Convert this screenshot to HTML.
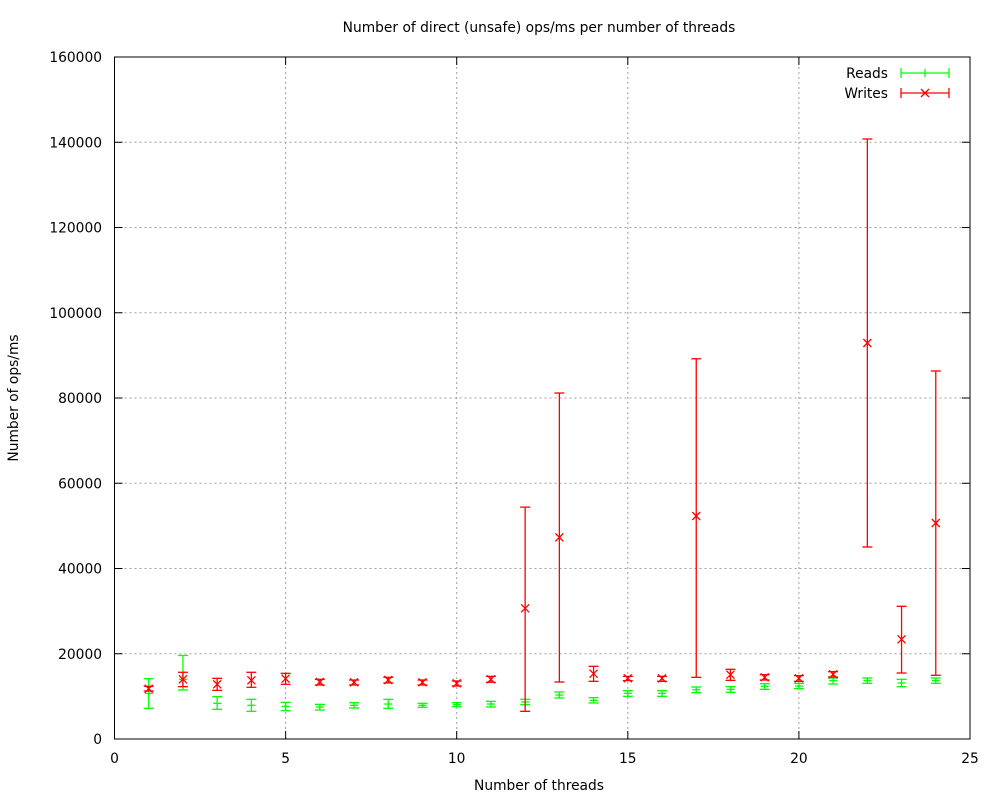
<!DOCTYPE html>
<html><head><meta charset="utf-8"><style>
body{margin:0;background:#fff}
svg text{font-family:"DejaVu Sans","Liberation Sans",sans-serif;font-size:13.8px;fill:#000}
</style></head><body>
<svg id="chart" width="1000" height="800" xmlns="http://www.w3.org/2000/svg">
<rect width="1000" height="800" fill="#fff"/>
<g id="grid"></g>
<g id="axes"></g>
<g id="reads"></g>
<g id="writes"></g>
<text x="539" y="32" text-anchor="middle">Number of direct (unsafe) ops/ms per number of threads</text>
<text x="539" y="790" text-anchor="middle">Number of threads</text>
<text transform="translate(18,398) rotate(-90)" text-anchor="middle">Number of ops/ms</text>
<g>
<text x="888" y="78" text-anchor="end">Reads</text>
<g stroke="#00ff00" stroke-width="1.3">
<line x1="901" y1="73" x2="949" y2="73"/><line x1="901" y1="68" x2="901" y2="78"/><line x1="949" y1="68" x2="949" y2="78"/><line x1="925" y1="69" x2="925" y2="77"/></g>
<text x="888" y="98" text-anchor="end">Writes</text>
<g stroke="#ff0000" stroke-width="1.3">
<line x1="901" y1="93" x2="949" y2="93"/><line x1="901" y1="88" x2="901" y2="98"/><line x1="949" y1="88" x2="949" y2="98"/><line x1="921" y1="89" x2="929" y2="97"/><line x1="921" y1="97" x2="929" y2="89"/></g>
</g>
</svg>
<script>
const threads=[1,2,3,4,5,6,7,8,9,10,11,12,13,14,15,16,17,18,19,20,21,22,23,24];
const readsMid=[10700,14000,8370,7900,7670,7500,7900,8210,7900,8050,8210,8680,10320,9070,10720,10720,11570,11650,12360,12430,13680,13680,13140,13680];
const readsLow=[7200,11500,6960,6500,6650,6800,7270,7200,7430,7580,7510,8050,9620,8450,10010,10010,10870,10950,11650,11810,12900,13060,12280,13060];
const readsHigh=[14150,19600,9930,9310,8600,8130,8510,9310,8370,8520,8840,9310,11030,9700,11340,11340,12200,12280,12980,13060,14310,14310,14000,14310];
const writesMid=[11810,14000,12830,13770,14150,13370,13290,13840,13290,13060,14000,30660,47300,15320,14230,14230,52320,15080,14470,14230,15170,92900,23390,50670];
const writesLow=[11260,12280,11410,12130,12830,12670,12670,13140,12670,12430,13300,6490,13370,13530,13690,13530,14470,13760,13840,13530,14550,45040,15480,14940];
const writesHigh=[12360,15650,14230,15650,15410,14000,13840,14470,13840,13610,14700,54400,81170,17050,14700,14700,89200,16350,15090,14860,15800,140760,31130,86330];
const xTicks=[0,5,10,15,20,25];
const yTicks=[0,20000,40000,60000,80000,100000,120000,140000,160000];
const L=114.5,R=970,T=57,B=739;
const sx=v=>L+(v-0)/(25-0)*(R-L);
const sy=v=>B-(v-0)/(160000-0)*(B-T);
const NS="http://www.w3.org/2000/svg";
function mk(tag,attrs,parent){const e=document.createElementNS(NS,tag);for(const k in attrs)e.setAttribute(k,attrs[k]);parent.appendChild(e);return e;}
const grid=document.getElementById('grid'),axes=document.getElementById('axes');
xTicks.forEach(t=>{
  const x=sx(t);
  if(t>0&&t<25){const g=mk('line',{x1:x,y1:T,x2:x,y2:B,stroke:'#a0a0a0','stroke-dasharray':'2,3'},grid);
  
  }
  mk('line',{x1:x,y1:B,x2:x,y2:B-8,stroke:'#000'},axes);
  mk('line',{x1:x,y1:T,x2:x,y2:T+8,stroke:'#000'},axes);
  const tx=mk('text',{x:x,y:763,'text-anchor':'middle'},axes);tx.textContent=t;
  
  
});
yTicks.forEach(t=>{
  const y=sy(t);
  if(t>0&&t<160000){const g=mk('line',{x1:L,y1:y,x2:R,y2:y,stroke:'#a0a0a0','stroke-dasharray':'2,3'},grid);
  
  }
  mk('line',{x1:L,y1:y,x2:L+8,y2:y,stroke:'#000'},axes);
  mk('line',{x1:R,y1:y,x2:R-8,y2:y,stroke:'#000'},axes);
  const tx=mk('text',{x:102,y:y+5,'text-anchor':'end'},axes);tx.textContent=t;
  
  
});
const fr=mk('rect',{x:L,y:T,width:R-L,height:B-T,fill:'none',stroke:'#000'},axes);


function bars(gid,color,mid,lo,hi,marker,name){
  const g=document.getElementById(gid);
  threads.forEach((t,i)=>{
    const x=sx(t),y=sy(mid[i]),yl=sy(lo[i]),yh=sy(hi[i]);
    const grp=mk('g',{stroke:color,'stroke-width':1.3,fill:'none'},g);
    
    
    mk('line',{x1:x,y1:yl,x2:x,y2:yh},grp);
    mk('line',{x1:x-5,y1:yl,x2:x+5,y2:yl},grp);
    mk('line',{x1:x-5,y1:yh,x2:x+5,y2:yh},grp);
    if(marker==='x'){mk('line',{x1:x-4,y1:y-4,x2:x+4,y2:y+4},grp);mk('line',{x1:x-4,y1:y+4,x2:x+4,y2:y-4},grp);}
    else{mk('line',{x1:x-4,y1:y,x2:x+4,y2:y},grp);}
  });
}
bars('reads','#00ff00',readsMid,readsLow,readsHigh,'+','reads');
bars('writes','#ff0000',writesMid,writesLow,writesHigh,'x','writes');
</script>
</body></html>
